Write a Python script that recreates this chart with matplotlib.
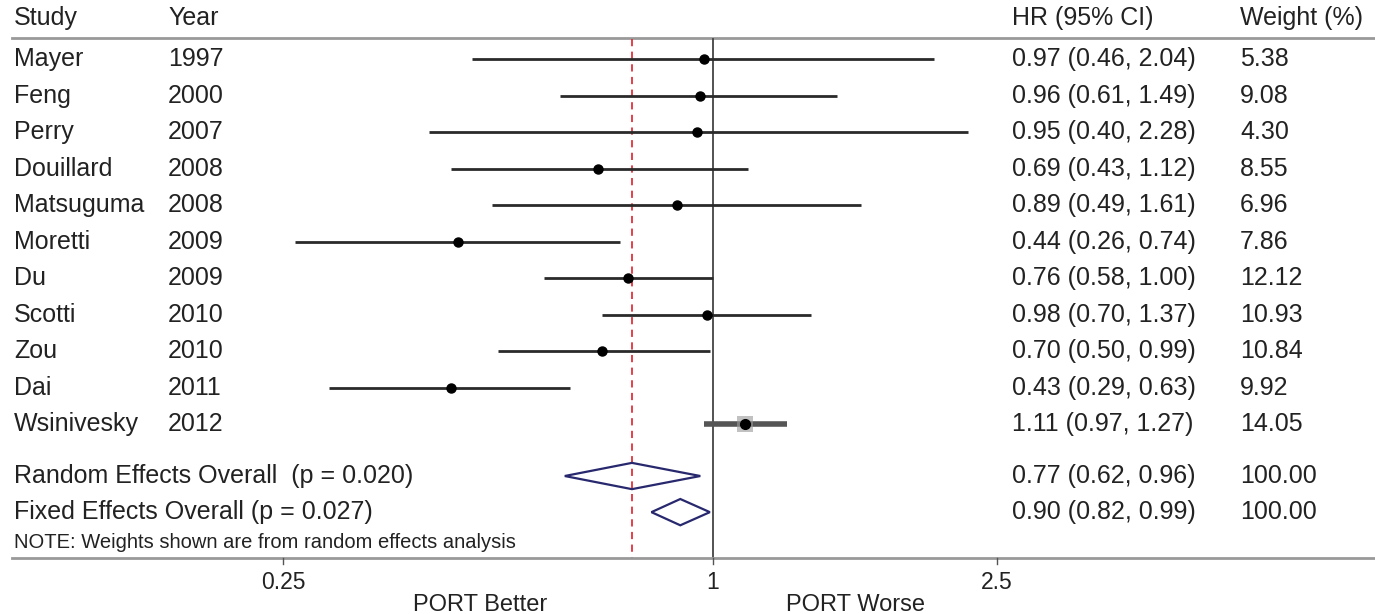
import matplotlib
matplotlib.use("Agg")
import matplotlib.pyplot as plt
import matplotlib.transforms as mtransforms
from matplotlib.patches import Polygon

# study data
studies = ["Mayer", "Feng", "Perry", "Douillard", "Matsuguma", "Moretti",
           "Du", "Scotti", "Zou", "Dai", "Wsinivesky"]
years = ["1997", "2000", "2007", "2008", "2008", "2009",
         "2009", "2010", "2010", "2011", "2012"]
hr = [0.97, 0.96, 0.95, 0.69, 0.89, 0.44, 0.76, 0.98, 0.70, 0.43, 1.11]
lo = [0.46, 0.61, 0.40, 0.43, 0.49, 0.26, 0.58, 0.70, 0.50, 0.29, 0.97]
hi = [2.04, 1.49, 2.28, 1.12, 1.61, 0.74, 1.00, 1.37, 0.99, 0.63, 1.27]
weights = ["5.38", "9.08", "4.30", "8.55", "6.96", "7.86",
           "12.12", "10.93", "10.84", "9.92", "14.05"]

# pooled estimates
pooled_labels = ["Random Effects Overall  (p = 0.020)", "Fixed Effects Overall (p = 0.027)"]
pooled_hr = [0.77, 0.90]
pooled_lo = [0.62, 0.82]
pooled_hi = [0.96, 0.99]
pooled_w = ["100.00", "100.00"]

xticks = [0.25, 1, 2.5]

plt.rcParams['font.family'] = ['Liberation Sans', 'DejaVu Sans']
txt = '#222222'

fig = plt.figure(figsize=(13.75, 6.14), dpi=100)
ax = fig.add_axes([0, 0, 1, 1])
ax.set_xscale('log')
ax.set_xlim(0.1003, 8.46)
ax.set_ylim(15.2, -1.62)
ax.axis('off')

tr = mtransforms.blended_transform_factory(ax.transAxes, ax.transData)
col_study, col_year, col_hr, col_w = 14 / 1375, 168 / 1375, 1012 / 1375, 1240 / 1375
fs = 18

# header
y_head = -1.12
for xc, s in [(col_study, "Study"), (col_year, "Year"),
              (col_hr, "HR (95% CI)"), (col_w, "Weight (%)")]:
    ax.text(xc, y_head, s, transform=tr, fontsize=fs, va='center', color=txt)
ax.plot([12 / 1375, 1], [-0.575, -0.575], transform=tr, color='#999999', lw=2)

# study rows
for i in range(len(studies)):
    ax.text(col_study, i, studies[i], transform=tr, fontsize=fs, va='center', color=txt)
    ax.text(col_year, i, years[i], transform=tr, fontsize=fs, va='center', color=txt)
    ax.text(col_hr, i, f"{hr[i]:.2f} ({lo[i]:.2f}, {hi[i]:.2f})", transform=tr,
            fontsize=fs, va='center', color=txt)
    ax.text(col_w, i, weights[i], transform=tr, fontsize=fs, va='center', color=txt)
    if studies[i] == "Wsinivesky":
        ax.plot([lo[i], hi[i]], [i, i], color='#555555', lw=4, solid_capstyle='butt', zorder=3)
        ax.plot(hr[i], i, 's', color='#999999', ms=11, mew=0, alpha=0.6, zorder=4)
        ax.plot(hr[i], i, 'o', color='black', ms=7, zorder=5)
    else:
        ax.plot([lo[i], hi[i]], [i, i], color='#2a2a2a', lw=2, solid_capstyle='butt', zorder=3)
        ax.plot(hr[i], i, 'o', color='black', ms=6.5, zorder=4)

# pooled rows
pooled_y = [11.42, 12.41]
for j in range(2):
    y = pooled_y[j]
    ax.text(col_study, y, pooled_labels[j], transform=tr, fontsize=fs, va='center', color=txt)
    ax.text(col_hr, y, f"{pooled_hr[j]:.2f} ({pooled_lo[j]:.2f}, {pooled_hi[j]:.2f})",
            transform=tr, fontsize=fs, va='center', color=txt)
    ax.text(col_w, y, pooled_w[j], transform=tr, fontsize=fs, va='center', color=txt)
    h = 0.36
    d = Polygon([(pooled_lo[j], y), (pooled_hr[j], y - h), (pooled_hi[j], y),
                 (pooled_hr[j], y + h)], closed=True, fill=False,
                edgecolor='#28286e', lw=1.6, zorder=5)
    ax.add_patch(d)

ax.text(col_study, 13.25, "NOTE: Weights shown are from random effects analysis",
        transform=tr, fontsize=14.5, va='center', color=txt)

# reference lines
y_bot = 13.67
ax.plot([1, 1], [-0.55, y_bot], color='#444444', lw=1.3, zorder=2)
ax.plot([pooled_hr[0], pooled_hr[0]], [-0.55, y_bot], color='#e0303a', lw=1.3,
        ls=(0, (4, 3)), zorder=2)

# bottom axis
ax.plot([12 / 1375, 1], [y_bot, y_bot], transform=tr, color='#999999', lw=2)
for t in xticks:
    ax.plot([t, t], [y_bot, y_bot + 0.17], color='#555555', lw=1)
    ax.text(t, 14.33, f"{t:g}", fontsize=16.5, ha='center', va='center', color=txt)
ax.text(480 / 1375, 14.95, "PORT Better", transform=tr, fontsize=17,
        ha='center', va='center', color=txt)
ax.text(855 / 1375, 14.95, "PORT Worse", transform=tr, fontsize=17,
        ha='center', va='center', color=txt)

fig.savefig("out.png", dpi=100)
